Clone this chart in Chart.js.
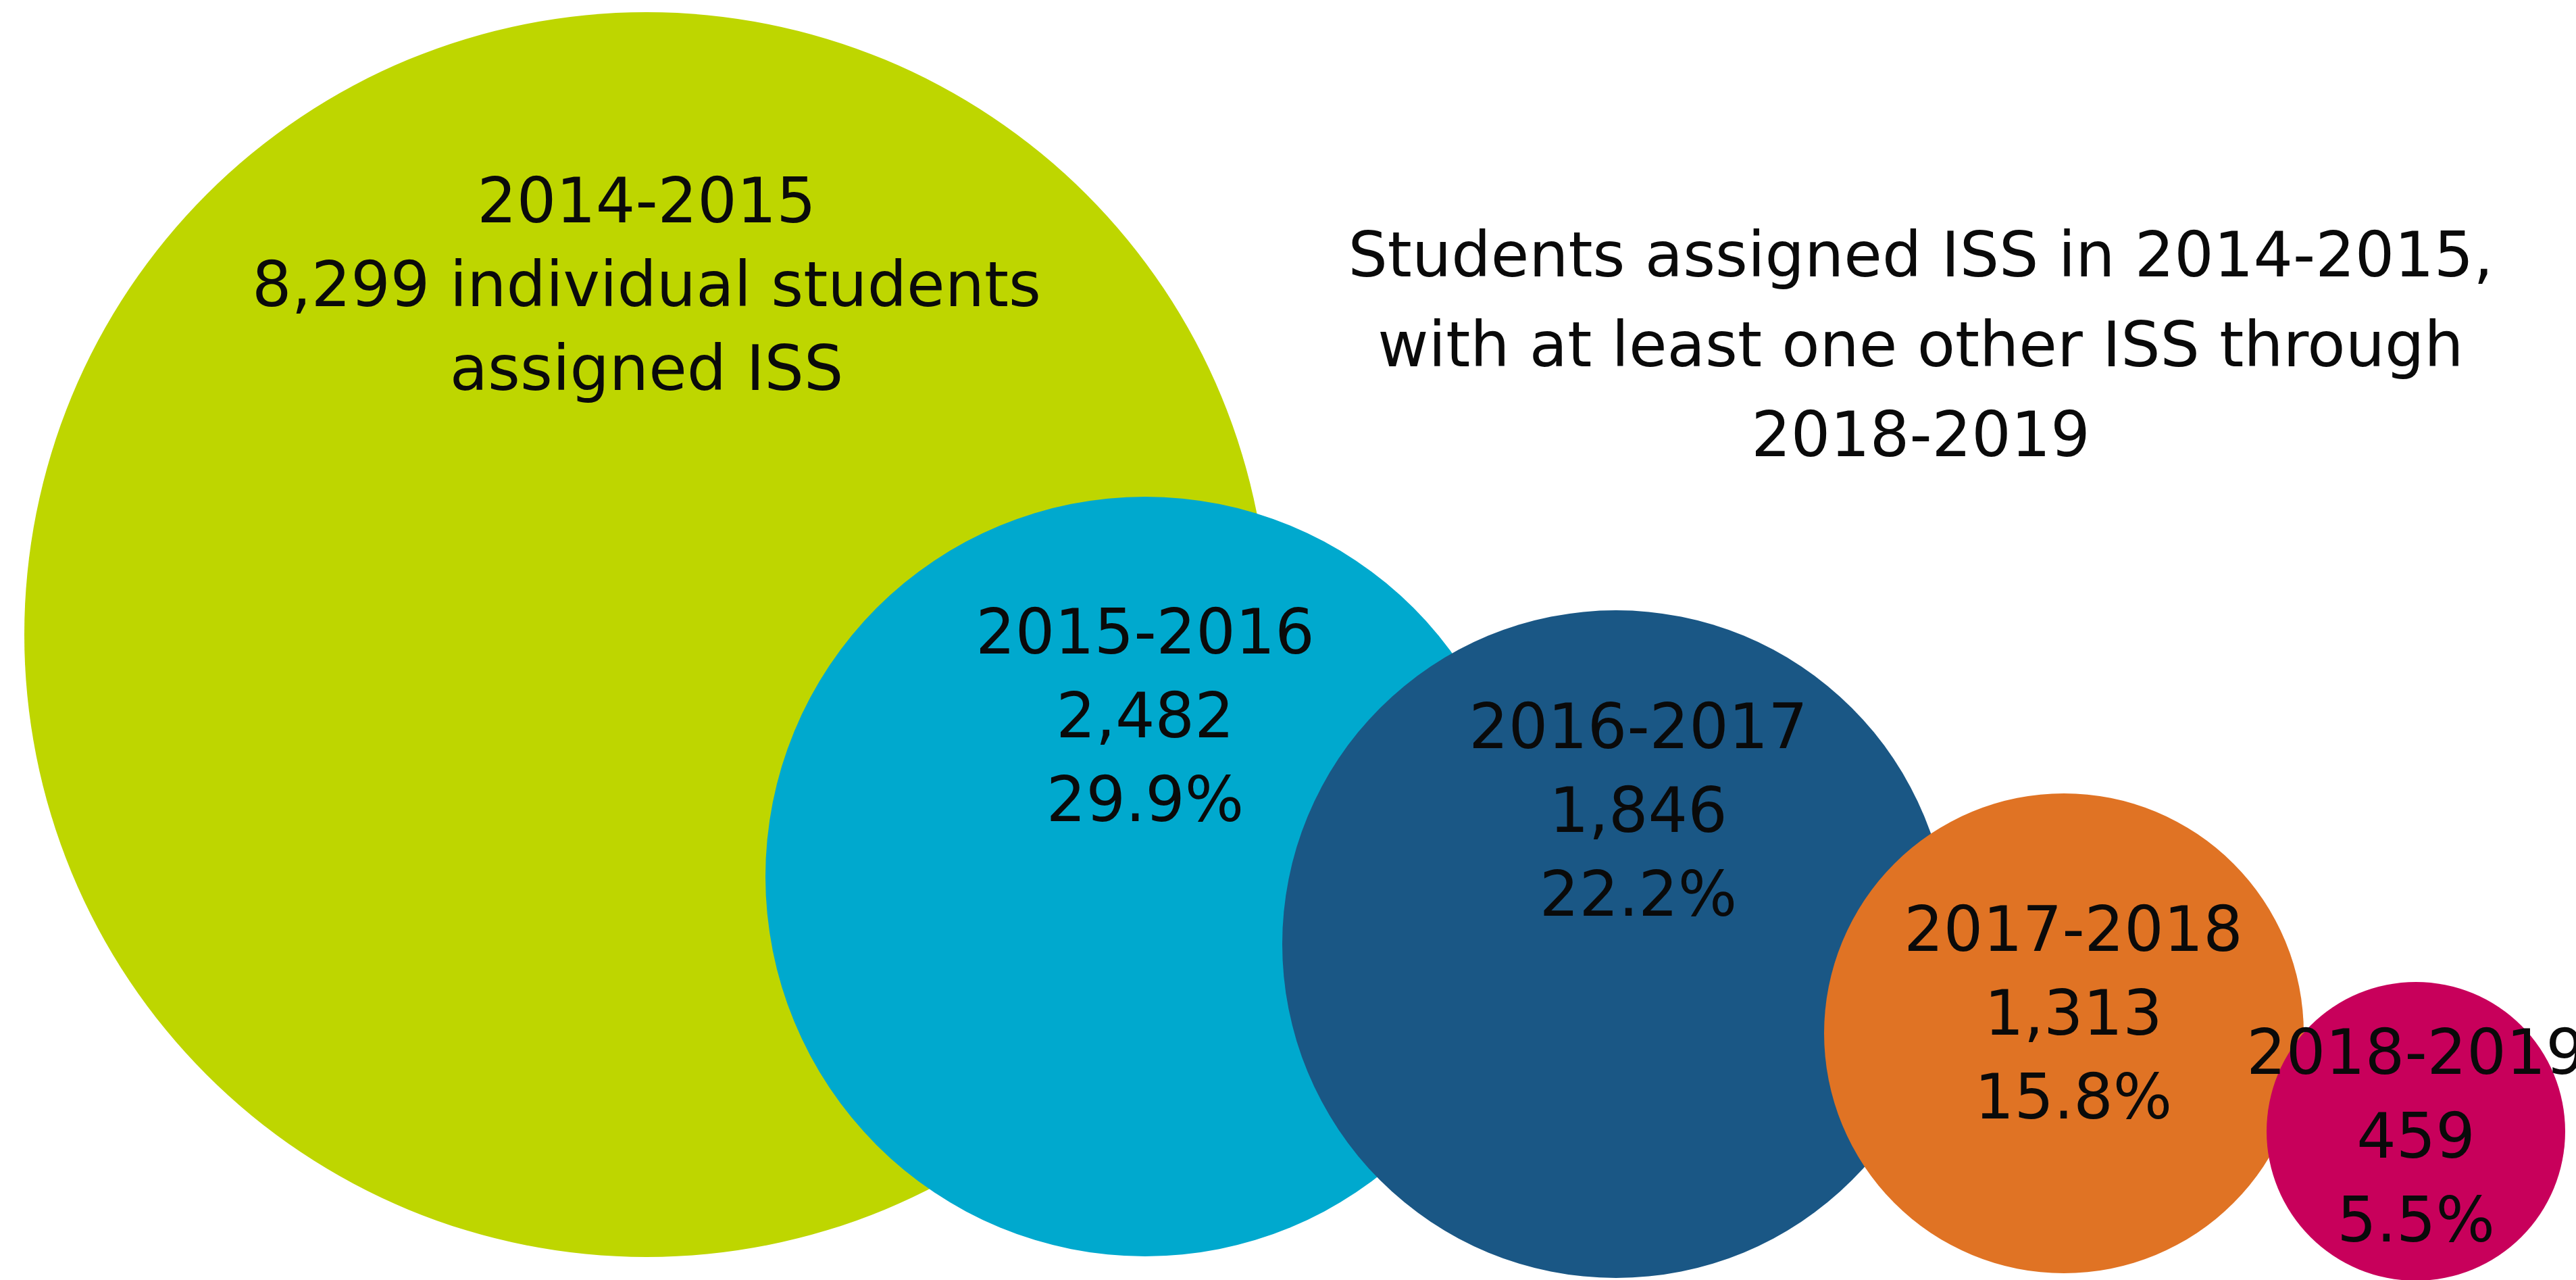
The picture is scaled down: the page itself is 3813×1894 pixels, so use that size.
<!DOCTYPE html>
<html>
<head>
<meta charset="utf-8">
<script src="https://cdn.jsdelivr.net/npm/chart.js@4.4.1/dist/chart.umd.min.js"></script>
<style>
  html, body { margin: 0; padding: 0; background: #ffffff; }
  #wrap { width: 3813px; height: 1894px; position: relative; }
</style>
</head>
<body>
<div id="wrap"><canvas id="grafica"></canvas></div>
<script>
// Datos del grafico
const years = ['2014-2015', '2015-2016', '2016-2017', '2017-2018', '2018-2019'];
const students = [8299, 2482, 1846, 1313, 459];
const percents = [null, 29.9, 22.2, 15.8, 5.5];
const title = ['Students assigned ISS in 2014-2015,', 'with at least one other ISS through', '2018-2019'];

// Disposicion de los circulos (unidades de eje = pixeles de la imagen)
const centerX = [957, 1695, 2392, 3055, 3576];
const centerY = [939, 1297, 1397, 1529, 1674];
const radius = [921, 562, 494, 355, 221];
const colors = ['#bed600', '#00a9ce', '#1a5785', '#e07324', '#c8005b'];

// Posicion de las etiquetas respecto al centro
const labelDx = [0, 0, 33, 14, 0];
const labelDy = [-634, -354, -314, -146, -109];
const lineH = 124;
const font = '92px "DejaVu Sans", sans-serif';

function fmt(n) { return n.toLocaleString('en-US'); }

const labelPlugin = {
  id: 'bubbleLabels',
  afterDatasetsDraw(chart) {
    const ctx = chart.ctx;
    const meta = chart.getDatasetMeta(0);
    ctx.save();
    ctx.font = font;
    ctx.fillStyle = '#0a0a0a';
    ctx.textAlign = 'center';
    ctx.textBaseline = 'middle';
    meta.data.forEach((pt, i) => {
      let lines;
      if (i === 0) {
        lines = [years[i], fmt(students[i]) + ' individual students', 'assigned ISS'];
      } else {
        lines = [years[i], fmt(students[i]), percents[i].toFixed(1) + '%'];
      }
      lines.forEach((t, k) => {
        ctx.fillText(t, pt.x + labelDx[i], pt.y + labelDy[i] + k * lineH);
      });
    });
    // titulo
    const xs = chart.scales.x, ys = chart.scales.y;
    const tx = xs.getPixelForValue(2843);
    title.forEach((t, k) => {
      ctx.fillText(t, tx, ys.getPixelForValue(385 + k * 133));
    });
    ctx.restore();
  }
};

new Chart(document.getElementById('grafica'), {
  type: 'bubble',
  data: {
    datasets: [{
      data: years.map((_, i) => ({ x: centerX[i], y: centerY[i], r: radius[i] })),
      backgroundColor: colors,
      hoverBackgroundColor: colors,
      borderWidth: 0,
      hoverBorderWidth: 0,
      clip: false
    }]
  },
  options: {
    responsive: true,
    maintainAspectRatio: false,
    animation: false,
    layout: { padding: 0, autoPadding: false },
    events: [],
    scales: {
      x: { type: 'linear', min: 0, max: 3813, display: false },
      y: { type: 'linear', min: 0, max: 1894, reverse: true, display: false }
    },
    plugins: {
      legend: { display: false },
      tooltip: { enabled: false }
    }
  },
  plugins: [labelPlugin]
});
</script>
</body>
</html>
